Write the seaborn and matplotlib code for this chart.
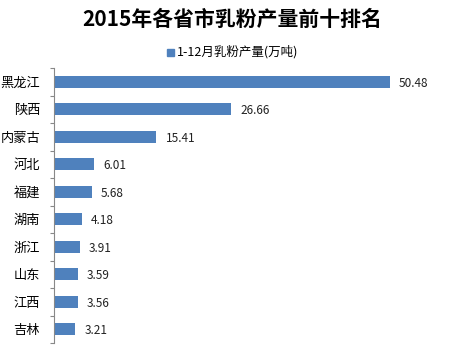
import matplotlib
matplotlib.use("Agg")
import matplotlib.pyplot as plt
import seaborn as sns
import pandas as pd

provinces = ["黑龙江", "陕西", "内蒙古", "河北", "福建", "湖南", "浙江", "山东", "江西", "吉林"]
output = [50.48, 26.66, 15.41, 6.01, 5.68, 4.18, 3.91, 3.59, 3.56, 3.21]
series_name = "1-12月乳粉产量(万吨)"
title = "2015年各省市乳粉产量前十排名"

sns.set_theme(style="white")
plt.rcParams["font.family"] = ["Noto Sans CJK SC", "DejaVu Sans"]

df = pd.DataFrame({"省份": provinces, "产量": output, "系列": series_name})

fig = plt.figure(figsize=(4.65, 3.5), dpi=100)
ax = fig.add_axes([54 / 465, 7 / 350, (453 - 54) / 465, (343 - 68) / 350])

sns.barplot(data=df, y="省份", x="产量", hue="系列", orient="h", dodge=False,
            palette=["#4F81BD"], saturation=1, width=0.43, linewidth=0,
            ax=ax, legend=False)

ax.set_xlim(0, 60)
ax.set_ylim(len(provinces) - 0.5, -0.5)
ax.set_xlabel("")
ax.set_ylabel("")
ax.set_xticks([])

for i, v in enumerate(output):
    ax.text(v + 1.35, i + 0.06, f"{v:.2f}", va="center", ha="left",
            fontsize=8.5, color="#222222")

# category separators on the value axis
ax.set_yticks([i - 0.5 for i in range(len(provinces) + 1)], minor=True)
ax.tick_params(axis="y", which="minor", length=3, width=0.8, color="#888888", direction="out", left=True)
ax.tick_params(axis="y", which="major", length=0, pad=10, labelsize=9.5, labelcolor="black")

for side in ["top", "right", "bottom"]:
    ax.spines[side].set_visible(False)
ax.spines["left"].set_color("#888888")
ax.spines["left"].set_linewidth(0.8)

fig.text(0.5, 1 - 19 / 350, title, ha="center", va="center",
         fontsize=15, fontweight="bold", color="black")

# legend entry
fig.patches.append(plt.Rectangle((167 / 465, 1 - 56 / 350), 7 / 465, 7 / 350,
                                 transform=fig.transFigure, color="#4F81BD", figure=fig))
fig.text(177 / 465, 1 - 52 / 350, series_name, ha="left", va="center", fontsize=9, color="black")

fig.savefig("out.png", dpi=100, facecolor="white")
